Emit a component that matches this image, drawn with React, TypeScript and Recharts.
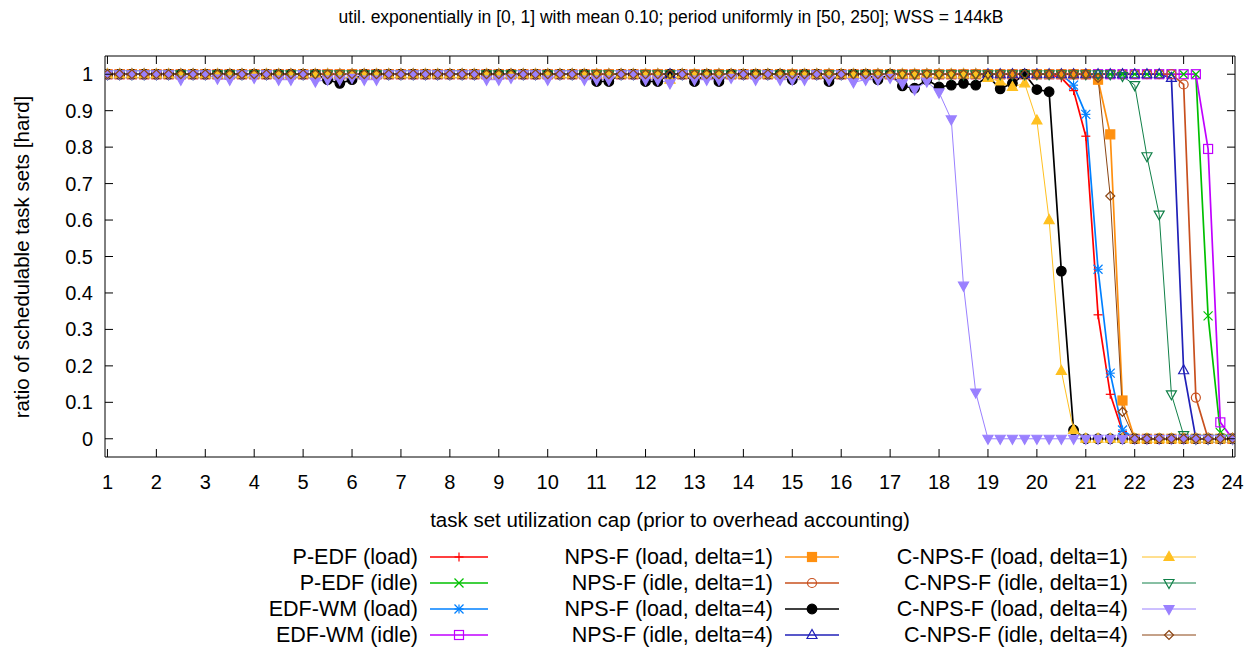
import { LineChart, Line, XAxis, YAxis } from "recharts";

const FONT = "'Liberation Sans', Arial, Helvetica, sans-serif";

const X_VALUES = [
  1, 1.25, 1.5, 1.75, 2, 2.25, 2.5, 2.75,
  3, 3.25, 3.5, 3.75, 4, 4.25, 4.5, 4.75,
  5, 5.25, 5.5, 5.75, 6, 6.25, 6.5, 6.75,
  7, 7.25, 7.5, 7.75, 8, 8.25, 8.5, 8.75,
  9, 9.25, 9.5, 9.75, 10, 10.25, 10.5, 10.75,
  11, 11.25, 11.5, 11.75, 12, 12.25, 12.5, 12.75,
  13, 13.25, 13.5, 13.75, 14, 14.25, 14.5, 14.75,
  15, 15.25, 15.5, 15.75, 16, 16.25, 16.5, 16.75,
  17, 17.25, 17.5, 17.75, 18, 18.25, 18.5, 18.75,
  19, 19.25, 19.5, 19.75, 20, 20.25, 20.5, 20.75,
  21, 21.25, 21.5, 21.75, 22, 22.25, 22.5, 22.75,
  23, 23.25, 23.5, 23.75, 24,
];

const X_TICKS = [1, 2, 3, 4, 5, 6, 7, 8, 9, 10, 11, 12, 13, 14, 15, 16, 17, 18, 19, 20, 21, 22, 23, 24];
const Y_TICKS = [0, 0.1, 0.2, 0.3, 0.4, 0.5, 0.6, 0.7, 0.8, 0.9, 1];

// values per x step of 0.25 (8 per row, last row 23..24)
const P_EDF_LOAD = [
  1, 1, 1, 1, 1, 1, 1, 1,
  1, 1, 1, 1, 1, 1, 1, 1,
  1, 1, 1, 1, 1, 1, 1, 1,
  1, 1, 1, 1, 1, 1, 1, 1,
  1, 1, 1, 1, 1, 1, 1, 1,
  1, 1, 1, 1, 1, 1, 1, 1,
  1, 1, 1, 1, 1, 1, 1, 1,
  1, 1, 1, 1, 1, 1, 1, 1,
  1, 1, 1, 1, 1, 1, 1, 1,
  1, 1, 1, 1, 1, 1, 0.99, 0.955,
  0.83, 0.34, 0.122, 0.02, 0, 0, 0, 0,
  0, 0, 0, 0, 0,
];

const P_EDF_IDLE = [
  1, 1, 1, 1, 1, 1, 1, 1,
  1, 1, 1, 1, 1, 1, 1, 1,
  1, 1, 1, 1, 1, 1, 1, 1,
  1, 1, 1, 1, 1, 1, 1, 1,
  1, 1, 1, 1, 1, 1, 1, 1,
  1, 1, 1, 1, 1, 1, 1, 1,
  1, 1, 1, 1, 1, 1, 1, 1,
  1, 1, 1, 1, 1, 1, 1, 1,
  1, 1, 1, 1, 1, 1, 1, 1,
  1, 1, 1, 1, 1, 1, 1, 1,
  1, 1, 1, 1, 1, 1, 1, 1,
  1, 1, 0.337, 0.017, 0,
];

const EDF_WM_LOAD = [
  1, 1, 1, 1, 1, 1, 1, 1,
  1, 1, 1, 1, 1, 1, 1, 1,
  1, 1, 1, 1, 1, 1, 1, 1,
  1, 1, 1, 1, 1, 1, 1, 1,
  1, 1, 1, 1, 1, 1, 1, 1,
  1, 1, 1, 1, 1, 1, 1, 1,
  1, 1, 1, 1, 1, 1, 1, 1,
  1, 1, 1, 1, 1, 1, 1, 1,
  1, 1, 1, 1, 1, 1, 1, 1,
  1, 1, 1, 1, 1, 1, 1, 0.97,
  0.89, 0.465, 0.18, 0.024, 0, 0, 0, 0,
  0, 0, 0, 0, 0,
];

const EDF_WM_IDLE = [
  1, 1, 1, 1, 1, 1, 1, 1,
  1, 1, 1, 1, 1, 1, 1, 1,
  1, 1, 1, 1, 1, 1, 1, 1,
  1, 1, 1, 1, 1, 1, 1, 1,
  1, 1, 1, 1, 1, 1, 1, 1,
  1, 1, 1, 1, 1, 1, 1, 1,
  1, 1, 1, 1, 1, 1, 1, 1,
  1, 1, 1, 1, 1, 1, 1, 1,
  1, 1, 1, 1, 1, 1, 1, 1,
  1, 1, 1, 1, 1, 1, 1, 1,
  1, 1, 1, 1, 1, 1, 1, 1,
  1, 1, 0.795, 0.045, 0,
];

const NPS_LOAD_D1 = [
  1, 1, 1, 1, 1, 1, 1, 1,
  1, 1, 1, 1, 1, 1, 1, 1,
  1, 1, 1, 1, 1, 1, 1, 1,
  1, 1, 1, 1, 1, 1, 1, 1,
  1, 1, 1, 1, 1, 1, 1, 1,
  1, 1, 1, 1, 1, 1, 1, 1,
  1, 1, 1, 1, 1, 1, 1, 1,
  1, 1, 1, 1, 1, 1, 1, 1,
  1, 1, 1, 1, 1, 1, 1, 1,
  1, 1, 1, 1, 1, 1, 1, 1,
  1, 0.985, 0.835, 0.105, 0, 0, 0, 0,
  0, 0, 0, 0, 0,
];

const NPS_IDLE_D1 = [
  1, 1, 1, 1, 1, 1, 1, 1,
  1, 1, 1, 1, 1, 1, 1, 1,
  1, 1, 1, 1, 1, 1, 1, 1,
  1, 1, 1, 1, 1, 1, 1, 1,
  1, 1, 1, 1, 1, 1, 1, 1,
  1, 1, 1, 1, 1, 1, 1, 1,
  1, 1, 1, 1, 1, 1, 1, 1,
  1, 1, 1, 1, 1, 1, 1, 1,
  1, 1, 1, 1, 1, 1, 1, 1,
  1, 1, 1, 1, 1, 1, 1, 1,
  1, 1, 1, 1, 1, 1, 1, 1,
  0.972, 0.113, 0, 0, 0,
];

const NPS_LOAD_D4 = [
  1, 1, 1, 1, 1, 1, 1, 1,
  1, 1, 1, 1, 1, 1, 1, 1,
  1, 1, 0.985, 0.975, 0.985, 1, 1, 1,
  1, 1, 1, 1, 1, 1, 1, 1,
  1, 1, 1, 1, 1, 1, 1, 1,
  0.98, 0.98, 1, 1, 0.98, 0.98, 1, 1,
  0.98, 1, 0.98, 1, 1, 1, 1, 1,
  0.985, 1, 1, 0.98, 1, 1, 1, 0.985,
  1, 0.968, 0.962, 0.985, 0.965, 0.97, 0.975, 0.97,
  0.995, 0.96, 0.975, 1, 0.958, 0.952, 0.46, 0.024,
  0, 0, 0, 0, 0, 0, 0, 0,
  0, 0, 0, 0, 0,
];

const NPS_IDLE_D4 = [
  1, 1, 1, 1, 1, 1, 1, 1,
  1, 1, 1, 1, 1, 1, 1, 1,
  1, 1, 1, 1, 1, 1, 1, 1,
  1, 1, 1, 1, 1, 1, 1, 1,
  1, 1, 1, 1, 1, 1, 1, 1,
  1, 1, 1, 1, 1, 1, 1, 1,
  1, 1, 1, 1, 1, 1, 1, 1,
  1, 1, 1, 1, 1, 1, 1, 1,
  1, 1, 1, 1, 1, 1, 1, 1,
  1, 1, 1, 1, 1, 1, 1, 1,
  1, 1, 1, 1, 1, 1, 1, 0.99,
  0.188, 0, 0, 0, 0,
];

const C_NPS_LOAD_D1 = [
  1, 1, 1, 1, 1, 1, 1, 1,
  1, 1, 1, 1, 1, 1, 1, 1,
  1, 1, 1, 1, 1, 1, 1, 1,
  1, 1, 1, 1, 1, 1, 1, 1,
  1, 1, 1, 1, 1, 1, 1, 1,
  1, 1, 1, 1, 1, 1, 0.985, 1,
  1, 1, 1, 1, 1, 1, 1, 1,
  1, 1, 1, 1, 1, 1, 1, 1,
  1, 1, 1, 1, 1, 1, 1, 1,
  0.99, 0.98, 0.965, 0.975, 0.873, 0.6, 0.186, 0.024,
  0, 0, 0, 0, 0, 0, 0, 0,
  0, 0, 0, 0, 0,
];

const C_NPS_IDLE_D1 = [
  1, 1, 1, 1, 1, 1, 1, 1,
  1, 1, 1, 1, 1, 1, 1, 1,
  1, 1, 1, 1, 1, 1, 1, 1,
  1, 1, 1, 1, 1, 1, 1, 1,
  1, 1, 1, 1, 1, 1, 1, 1,
  1, 1, 1, 1, 1, 1, 1, 1,
  1, 1, 1, 1, 1, 1, 1, 1,
  1, 1, 1, 1, 1, 1, 1, 1,
  1, 1, 1, 1, 1, 1, 1, 1,
  1, 1, 1, 1, 1, 1, 1, 1,
  1, 1, 1, 0.995, 0.97, 0.775, 0.615, 0.122,
  0.01, 0, 0, 0, 0,
];

const C_NPS_LOAD_D4 = [
  1, 1, 1, 1, 1, 1, 0.985, 1,
  1, 0.988, 0.985, 1, 0.99, 1, 0.985, 0.985,
  1, 0.98, 0.985, 0.985, 0.99, 0.985, 0.985, 1,
  1, 1, 1, 1, 1, 1, 1, 0.985,
  0.985, 0.99, 1, 1, 0.985, 1, 1, 0.985,
  0.985, 0.985, 1, 1, 0.985, 0.985, 0.975, 1,
  0.985, 0.985, 0.985, 0.99, 1, 0.985, 1, 0.985,
  0.985, 0.985, 1, 0.985, 1, 0.978, 0.985, 0.985,
  0.99, 0.975, 0.958, 0.98, 0.95, 0.876, 0.42, 0.127,
  0, 0, 0, 0, 0, 0, 0, 0,
  0, 0, 0, 0, 0, 0, 0, 0,
  0, 0, 0, 0, 0,
];

const C_NPS_IDLE_D4 = [
  1, 1, 1, 1, 1, 1, 1, 1,
  1, 1, 1, 1, 1, 1, 1, 1,
  1, 1, 1, 1, 1, 1, 1, 1,
  1, 1, 1, 1, 1, 1, 1, 1,
  1, 1, 1, 1, 1, 1, 1, 1,
  1, 1, 1, 1, 1, 1, 1, 1,
  1, 1, 1, 1, 1, 1, 1, 1,
  1, 1, 1, 1, 1, 1, 1, 1,
  1, 1, 1, 1, 1, 1, 1, 1,
  1, 1, 1, 1, 1, 1, 1, 1,
  1, 0.99, 0.666, 0.074, 0, 0, 0, 0,
  0, 0, 0, 0, 0,
];

type MarkerShape =
  | "plus" | "cross" | "star" | "boxOpen" | "boxFilled" | "circleOpen" | "circleFilled"
  | "triUpOpen" | "triUpFilled" | "triDownOpen" | "triDownFilled" | "diamondOpen";

const SERIES: { key: string; name: string; color: string; marker: MarkerShape; width: number; values: number[] }[] = [
  { key: "pLoad", name: "P-EDF (load)", color: "#ff0000", marker: "plus", width: 1.7, values: P_EDF_LOAD },
  { key: "pIdle", name: "P-EDF (idle)", color: "#00c000", marker: "cross", width: 1.7, values: P_EDF_IDLE },
  { key: "wmLoad", name: "EDF-WM (load)", color: "#0080ff", marker: "star", width: 1.7, values: EDF_WM_LOAD },
  { key: "wmIdle", name: "EDF-WM (idle)", color: "#c000ff", marker: "boxOpen", width: 1.7, values: EDF_WM_IDLE },
  { key: "npsL1", name: "NPS-F (load, delta=1)", color: "#ff9010", marker: "boxFilled", width: 1.7, values: NPS_LOAD_D1 },
  { key: "npsI1", name: "NPS-F (idle, delta=1)", color: "#c8501e", marker: "circleOpen", width: 1.7, values: NPS_IDLE_D1 },
  { key: "npsL4", name: "NPS-F (load, delta=4)", color: "#000000", marker: "circleFilled", width: 1.7, values: NPS_LOAD_D4 },
  { key: "npsI4", name: "NPS-F (idle, delta=4)", color: "#2020b8", marker: "triUpOpen", width: 1.7, values: NPS_IDLE_D4 },
  { key: "cL1", name: "C-NPS-F (load, delta=1)", color: "#ffc020", marker: "triUpFilled", width: 1, values: C_NPS_LOAD_D1 },
  { key: "cI1", name: "C-NPS-F (idle, delta=1)", color: "#108048", marker: "triDownOpen", width: 1, values: C_NPS_IDLE_D1 },
  { key: "cL4", name: "C-NPS-F (load, delta=4)", color: "#9a80ff", marker: "triDownFilled", width: 1, values: C_NPS_LOAD_D4 },
  { key: "cI4", name: "C-NPS-F (idle, delta=4)", color: "#8b4513", marker: "diamondOpen", width: 1, values: C_NPS_IDLE_D4 },
];

const data = X_VALUES.map((x, i) => {
  const row: Record<string, number> = { x };
  SERIES.forEach((s) => { row[s.key] = s.values[i]; });
  return row;
});

function Marker({ cx, cy, shape, color }: { cx: number; cy: number; shape: MarkerShape; color: string }) {
  const r = 4.5;
  const sw = 1.2;
  switch (shape) {
    case "plus":
      return (
        <g stroke={color} strokeWidth={sw}>
          <line x1={cx - r} y1={cy} x2={cx + r} y2={cy} />
          <line x1={cx} y1={cy - r} x2={cx} y2={cy + r} />
        </g>
      );
    case "cross":
      return (
        <g stroke={color} strokeWidth={sw}>
          <line x1={cx - r} y1={cy - r} x2={cx + r} y2={cy + r} />
          <line x1={cx - r} y1={cy + r} x2={cx + r} y2={cy - r} />
        </g>
      );
    case "star":
      return (
        <g stroke={color} strokeWidth={sw}>
          <line x1={cx - r} y1={cy} x2={cx + r} y2={cy} />
          <line x1={cx} y1={cy - r} x2={cx} y2={cy + r} />
          <line x1={cx - r} y1={cy - r} x2={cx + r} y2={cy + r} />
          <line x1={cx - r} y1={cy + r} x2={cx + r} y2={cy - r} />
        </g>
      );
    case "boxOpen":
      return <rect x={cx - r} y={cy - r} width={2 * r} height={2 * r} fill="none" stroke={color} strokeWidth={sw} />;
    case "boxFilled":
      return <rect x={cx - r} y={cy - r} width={2 * r} height={2 * r} fill={color} stroke={color} strokeWidth={sw} />;
    case "circleOpen":
      return <circle cx={cx} cy={cy} r={r} fill="none" stroke={color} strokeWidth={sw} />;
    case "circleFilled":
      return <circle cx={cx} cy={cy} r={r + 0.3} fill={color} stroke={color} strokeWidth={sw} />;
    case "triUpOpen":
    case "triUpFilled":
      return (
        <polygon
          points={`${cx},${cy - r - 1} ${cx - r - 0.5},${cy + r - 1} ${cx + r + 0.5},${cy + r - 1}`}
          fill={shape === "triUpFilled" ? color : "none"} stroke={color} strokeWidth={sw}
        />
      );
    case "triDownOpen":
    case "triDownFilled":
      return (
        <polygon
          points={`${cx},${cy + r + 1} ${cx - r - 0.5},${cy - r + 1} ${cx + r + 0.5},${cy - r + 1}`}
          fill={shape === "triDownFilled" ? color : "none"} stroke={color} strokeWidth={sw}
        />
      );
    case "diamondOpen":
      return (
        <polygon
          points={`${cx},${cy - r} ${cx + r},${cy} ${cx},${cy + r} ${cx - r},${cy}`}
          fill="none" stroke={color} strokeWidth={sw}
        />
      );
  }
  return null;
}

const fmt = (v: number) => String(Math.round(v * 10) / 10);

// ticks point into the plot, like gnuplot
const BottomTick = (p: any) => (
  <g>
    <line x1={p.x} y1={p.y} x2={p.x} y2={p.y - 8} stroke="#000" strokeWidth={1} />
    <text x={p.x} y={p.y + 32} textAnchor="middle" fontSize={20} fontFamily={FONT} fill="#000">
      {fmt(p.payload.value)}
    </text>
  </g>
);
const TopTick = (p: any) => <line x1={p.x} y1={p.y} x2={p.x} y2={p.y + 8} stroke="#000" strokeWidth={1} />;
const LeftTick = (p: any) => (
  <g>
    <line x1={p.x} y1={p.y} x2={p.x + 8} y2={p.y} stroke="#000" strokeWidth={1} />
    <text x={p.x - 12} y={p.y + 7} textAnchor="end" fontSize={20} fontFamily={FONT} fill="#000">
      {fmt(p.payload.value)}
    </text>
  </g>
);
const RightTick = (p: any) => <line x1={p.x} y1={p.y} x2={p.x - 8} y2={p.y} stroke="#000" strokeWidth={1} />;

const LEGEND_ROWS = [564, 590, 616, 642];
const LEGEND_COLS = [
  { textRight: 418, x1: 430, x2: 488 },
  { textRight: 773, x1: 785, x2: 839 },
  { textRight: 1128, x1: 1142, x2: 1196 },
];

export default function App() {
  return (
    <div style={{ position: "absolute", left: 0, top: 0, width: 1258, height: 653, background: "#fff" }}>
      <LineChart
        width={1258}
        height={653}
        data={data}
        margin={{ top: 55, right: 22, bottom: 195, left: 104 }}
      >
        <XAxis
          xAxisId="b" type="number" dataKey="x" domain={[0.95, 24.05]} ticks={X_TICKS} interval={0}
          height={1} tickSize={0} tickMargin={0} tickLine={false} axisLine={{ stroke: "#000" }}
          tick={BottomTick} allowDataOverflow
        />
        <XAxis
          xAxisId="t" orientation="top" type="number" dataKey="x" domain={[0.95, 24.05]} ticks={X_TICKS} interval={0}
          height={1} tickSize={0} tickMargin={0} tickLine={false} axisLine={{ stroke: "#000" }}
          tick={TopTick} allowDataOverflow
        />
        <YAxis
          yAxisId="l" type="number" domain={[-0.05, 1.05]} ticks={Y_TICKS} interval={0}
          width={1} tickSize={0} tickMargin={0} tickLine={false} axisLine={{ stroke: "#000" }}
          tick={LeftTick} allowDataOverflow
        />
        <YAxis
          yAxisId="r" orientation="right" type="number" domain={[-0.05, 1.05]} ticks={Y_TICKS} interval={0}
          width={1} tickSize={0} tickMargin={0} tickLine={false} axisLine={{ stroke: "#000" }}
          tick={RightTick} allowDataOverflow
        />
        {SERIES.map((s) => (
          <Line
            key={s.key}
            xAxisId="b"
            yAxisId="l"
            type="linear"
            dataKey={s.key}
            stroke={s.color}
            strokeWidth={s.width}
            isAnimationActive={false}
            activeDot={false}
            dot={(p: any) => (
              <Marker key={`${s.key}-${p.index}`} cx={p.cx} cy={p.cy} shape={s.marker} color={s.color} />
            )}
          />
        ))}
      </LineChart>
      <svg
        width={1258}
        height={653}
        style={{ position: "absolute", left: 0, top: 0, pointerEvents: "none" }}
      >
        <text x={671} y={23} textAnchor="middle" fontSize={17.5} fontFamily={FONT} fill="#000">
          util. exponentially in [0, 1] with mean 0.10; period uniformly in [50, 250]; WSS = 144kB
        </text>
        <text x={670} y={527} textAnchor="middle" fontSize={20.5} fontFamily={FONT} fill="#000">
          task set utilization cap (prior to overhead accounting)
        </text>
        <text
          x={0} y={0} transform="translate(29,257) rotate(-90)" textAnchor="middle"
          fontSize={20.5} fontFamily={FONT} fill="#000"
        >
          ratio of schedulable task sets [hard]
        </text>
        {SERIES.map((s, i) => {
          const col = LEGEND_COLS[Math.floor(i / 4)];
          const base = LEGEND_ROWS[i % 4];
          const cy = base - 7;
          return (
            <g key={s.key}>
              <text x={col.textRight} y={base} textAnchor="end" fontSize={21.5} fontFamily={FONT} fill="#000">
                {s.name}
              </text>
              <line x1={col.x1} y1={cy} x2={col.x2} y2={cy} stroke={s.color} strokeWidth={s.width} />
              <Marker cx={(col.x1 + col.x2) / 2} cy={cy} shape={s.marker} color={s.color} />
            </g>
          );
        })}
      </svg>
    </div>
  );
}
